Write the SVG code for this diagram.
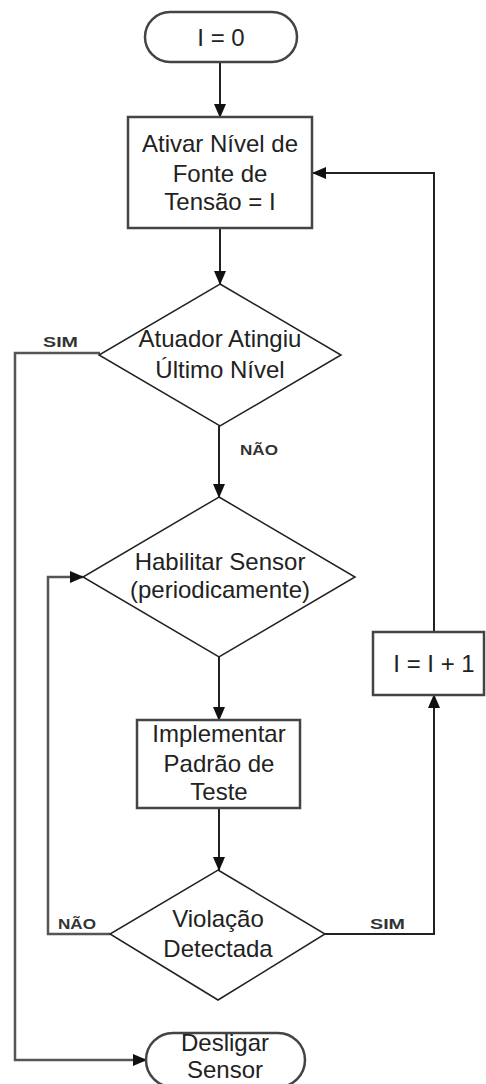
<svg xmlns="http://www.w3.org/2000/svg" width="486" height="1084" viewBox="0 0 486 1084">
<style>
.t{font-family:"Liberation Sans",Arial,sans-serif;font-size:24px;fill:#222;text-anchor:middle}
.l{font-family:"Liberation Sans",Arial,sans-serif;font-size:14px;fill:#333;font-weight:bold}
.box{fill:#fff;stroke:#444;stroke-width:2.5}
.dia{fill:#fff;stroke:#222;stroke-width:1.5}
.c{fill:none;stroke:#222;stroke-width:2}
.g{fill:none;stroke:#555;stroke-width:2.5}
</style>
<defs>
<marker id="ah" markerUnits="userSpaceOnUse" markerWidth="14" markerHeight="12" refX="13" refY="6" orient="auto">
<path d="M0,0 L14,6 L0,12 Z" fill="#111"/>
</marker>
</defs>
<rect width="486" height="1084" fill="#fff"/>
<g id="connectors">
<line class="c" x1="220" y1="62" x2="220" y2="117" marker-end="url(#ah)"/>
<line class="c" x1="220" y1="228" x2="220" y2="284" marker-end="url(#ah)"/>
<line class="c" x1="219" y1="426" x2="219" y2="497" marker-end="url(#ah)"/>
<line class="c" x1="219" y1="657" x2="219" y2="720" marker-end="url(#ah)"/>
<line class="c" x1="219" y1="808" x2="219" y2="870" marker-end="url(#ah)"/>
<polyline class="g" points="100,353 15,353 15,1060 146,1060" marker-end="url(#ah)"/>
<polyline class="g" points="110,934 48,934 48,577 83,577" marker-end="url(#ah)"/>
<polyline class="c" points="325,934 434,934 434,695" marker-end="url(#ah)"/>
<polyline class="c" points="434,632 434,173 313,173" marker-end="url(#ah)"/>
<text class="l" x="43" y="347" textLength="35" lengthAdjust="spacingAndGlyphs">SIM</text>
<text class="l" x="240" y="455" textLength="38" lengthAdjust="spacingAndGlyphs">NÃO</text>
<text class="l" x="58" y="929" textLength="38" lengthAdjust="spacingAndGlyphs">NÃO</text>
<text class="l" x="370" y="929" textLength="35" lengthAdjust="spacingAndGlyphs">SIM</text>
</g>
<g id="start">
<rect class="box" x="145" y="12" width="152" height="50" rx="25" stroke="#222"/>
<text class="t" x="221" y="46">I = 0</text>
</g>
<g id="ativar">
<rect class="box" x="128" y="117" width="184" height="111"/>
<text class="t" x="220" y="152">Ativar Nível de</text>
<text class="t" x="220" y="182">Fonte de</text>
<text class="t" x="220" y="210">Tensão = I</text>
</g>
<g id="atuador">
<polygon class="dia" points="220,284 341,355 220,426 99,355"/>
<text class="t" x="220" y="347">Atuador Atingiu</text>
<text class="t" x="220" y="378">Último Nível</text>
</g>
<g id="habilitar">
<polygon class="dia" points="219,497 355,577 219,657 83,577"/>
<text class="t" x="220" y="570">Habilitar Sensor</text>
<text class="t" x="220" y="598">(periodicamente)</text>
</g>
<g id="implementar">
<rect class="box" x="137" y="720" width="163" height="88"/>
<text class="t" x="219" y="742">Implementar</text>
<text class="t" x="219" y="772">Padrão de</text>
<text class="t" x="219" y="800">Teste</text>
</g>
<g id="violacao">
<polygon class="dia" points="218,870 325,934 218,1000 110,934"/>
<text class="t" x="218" y="927">Violação</text>
<text class="t" x="218" y="957">Detectada</text>
</g>
<g id="incremento">
<rect class="box" x="373" y="632" width="111" height="63"/>
<text class="t" x="434" y="672">I = I + 1</text>
</g>
<g id="desligar">
<rect class="box" x="146" y="1033" width="159" height="54" rx="27" stroke="#222"/>
<text class="t" x="225" y="1051">Desligar</text>
<text class="t" x="225" y="1078">Sensor</text>
</g>
</svg>
